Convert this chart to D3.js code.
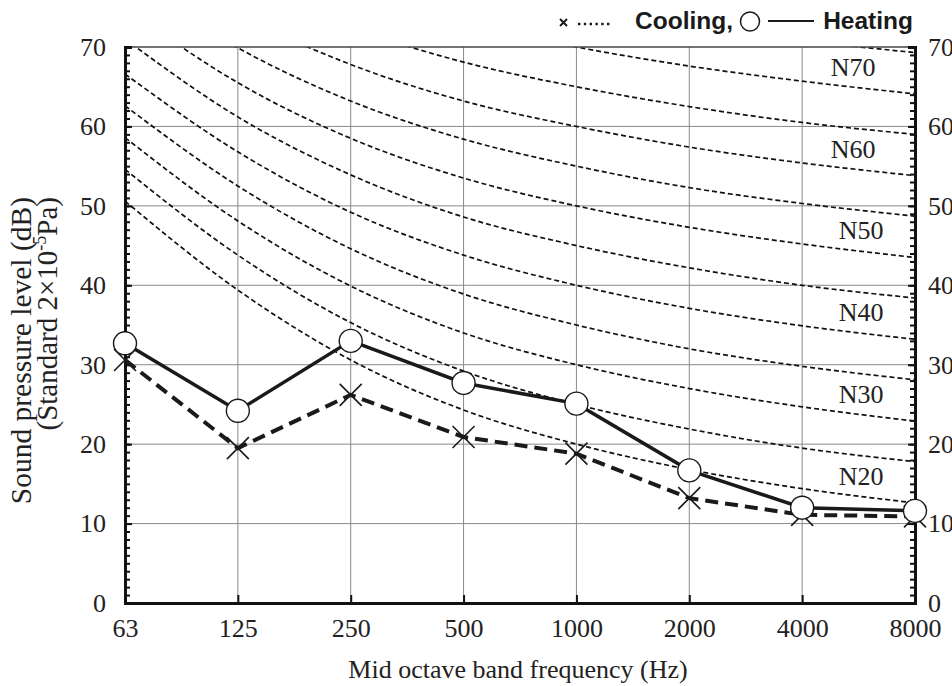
<!DOCTYPE html>
<html>
<head>
<meta charset="utf-8">
<script src="https://cdn.jsdelivr.net/npm/d3@7"></script>
<style>
  body { margin: 0; background: #fff; }
  svg { display: block; }
  .serif { font-family: "Liberation Serif", "Times New Roman", serif; fill: #222; }
</style>
</head>
<body>
<div id="chart"></div>
<script>
// Octave band centre frequencies (x categories)
var freqs = ["63", "125", "250", "500", "1000", "2000", "4000", "8000"];

// Measured levels, dB
var heating = [32.7, 24.2, 33.0, 27.7, 25.1, 16.7, 12.0, 11.6];
var cooling = [30.6, 19.5, 26.2, 20.9, 18.8, 13.2, 11.1, 10.9];

// Noise rating curves N20 ... N75 (values at each band)
var nLevels = [20, 25, 30, 35, 40, 45, 50, 55, 60, 65, 70, 75];
var nCurves = [
    [50.6, 39.4, 30.6, 24.3, 20, 16.8, 14.4, 12.6],
    [54.6, 43.8, 35.3, 29.2, 25, 21.9, 19.5, 17.8],
    [58.6, 48.1, 39.9, 34.0, 30, 27.0, 24.7, 22.9],
    [62.6, 52.5, 44.6, 38.9, 35, 32.0, 29.8, 28.1],
    [66.6, 56.8, 49.2, 43.8, 40, 37.1, 34.9, 33.2],
    [71.0, 61.2, 53.9, 48.6, 45, 42.2, 40.0, 38.4],
    [75.0, 65.5, 58.5, 53.5, 50, 47.3, 45.2, 43.5],
    [79.0, 69.9, 63.2, 58.4, 55, 52.3, 50.3, 48.7],
    [82.9, 74.2, 67.8, 63.2, 60, 57.4, 55.4, 53.8],
    [86.9, 78.6, 72.5, 68.1, 65, 62.5, 60.5, 59.0],
    [90.8, 82.9, 77.1, 73.0, 70, 67.6, 65.7, 64.1],
    [94.8, 87.3, 81.8, 77.9, 75, 72.6, 70.8, 69.3]
];
var nLabels = ["N20", "N30", "N40", "N50", "N60", "N70"];

// Axis ticks
var yMajor = [0, 10, 20, 30, 40, 50, 60, 70];
var yMinor = d3.range(0, 71, 1);

window.onload = function() {

    var W = 952, H = 686;
    var left = 125, right = 915, top = 47, bottom = 603;

    var svg = d3.select("#chart")
        .append("svg")
        .attr("width", W)
        .attr("height", H);

    var x = d3.scalePoint()
        .domain(freqs)
        .range([left, right])
        .padding(0);

    var y = d3.scaleLinear()
        .domain([0, 70])
        .range([bottom, top]);

    svg.append("defs").append("clipPath")
        .attr("id", "plot")
        .append("rect")
        .attr("x", left).attr("y", top)
        .attr("width", right - left).attr("height", bottom - top);

    // grid
    var grid = svg.append("g").attr("stroke", "#8a8a8a").attr("stroke-width", 1);
    grid.selectAll(".v")
        .data(freqs.slice(1, -1))
        .enter().append("line")
        .attr("x1", function(d) { return x(d); })
        .attr("x2", function(d) { return x(d); })
        .attr("y1", top).attr("y2", bottom);
    grid.selectAll(".h")
        .data(yMajor.slice(1, -1))
        .enter().append("line")
        .attr("x1", left).attr("x2", right)
        .attr("y1", function(d) { return y(d); })
        .attr("y2", function(d) { return y(d); });

    // N curves
    var curveLine = d3.line()
        .x(function(d, i) { return x(freqs[i]); })
        .y(function(d) { return y(d); })
        .curve(d3.curveMonotoneX);

    svg.append("g")
        .attr("clip-path", "url(#plot)")
        .selectAll("path")
        .data(nCurves)
        .enter().append("path")
        .attr("d", curveLine)
        .attr("fill", "none")
        .attr("stroke", "#111")
        .attr("stroke-width", 1.7)
        .attr("stroke-dasharray", "5,3");

    // N labels, placed just above their curve at the right edge
    svg.selectAll(".nlab")
        .data(nLabels)
        .enter().append("text")
        .attr("class", "serif")
        .attr("font-size", 26)
        .attr("text-anchor", "middle")
        .attr("x", function(d) { return x("4000") + (+d.slice(1) >= 60 ? 51 : 59); })
        .attr("y", function(d) {
            var k = nLevels.indexOf(+d.slice(1));
            return y(nCurves[k][7]) - 18;
        })
        .text(function(d) { return d; });

    // frame
    svg.append("line")
        .attr("x1", left).attr("x2", right)
        .attr("y1", top).attr("y2", top)
        .attr("stroke", "#444").attr("stroke-width", 1.5);

    // axes
    var leftMinor = svg.append("g")
        .attr("transform", "translate(" + left + ",0)")
        .call(d3.axisLeft(y).tickValues(yMinor).tickSize(-5).tickFormat(""));
    var leftAxis = svg.append("g")
        .attr("transform", "translate(" + left + ",0)")
        .call(d3.axisLeft(y).tickValues(yMajor).tickSize(-7).tickPadding(19).tickFormat(d3.format("d")));
    var rightMinor = svg.append("g")
        .attr("transform", "translate(" + right + ",0)")
        .call(d3.axisRight(y).tickValues(yMinor).tickSize(-5).tickFormat(""));
    var rightAxis = svg.append("g")
        .attr("transform", "translate(" + right + ",0)")
        .call(d3.axisRight(y).tickValues(yMajor).tickSize(-7).tickPadding(13).tickFormat(d3.format("d")));
    var bottomAxis = svg.append("g")
        .attr("transform", "translate(0," + bottom + ")")
        .call(d3.axisBottom(x).tickSize(-8).tickPadding(16));

    [leftMinor, leftAxis, rightMinor, rightAxis, bottomAxis].forEach(function(g) {
        g.select(".domain").attr("stroke", "#111").attr("stroke-width", 3);
        g.selectAll(".tick line").attr("stroke", "#111").attr("stroke-width", 2);
        g.selectAll("text")
            .attr("class", "serif")
            .attr("font-size", 26)
            .attr("fill", "#222");
    });

    // cooling series
    var dataLine = d3.line()
        .x(function(d, i) { return x(freqs[i]); })
        .y(function(d) { return y(d); });

    svg.append("path")
        .datum(cooling)
        .attr("d", dataLine)
        .attr("fill", "none")
        .attr("stroke", "#1a1a1a")
        .attr("stroke-width", 4)
        .attr("stroke-dasharray", "13,7");

    svg.selectAll(".xm")
        .data(cooling)
        .enter().append("path")
        .attr("d", function(d, i) {
            var cx = x(freqs[i]), cy = y(d), s = 11;
            return "M" + (cx - s) + "," + (cy - s) + "L" + (cx + s) + "," + (cy + s) +
                   "M" + (cx - s) + "," + (cy + s) + "L" + (cx + s) + "," + (cy - s);
        })
        .attr("stroke", "#1a1a1a")
        .attr("stroke-width", 1.6)
        .attr("fill", "none");

    // heating series
    svg.append("path")
        .datum(heating)
        .attr("d", dataLine)
        .attr("fill", "none")
        .attr("stroke", "#1a1a1a")
        .attr("stroke-width", 3.5);

    svg.selectAll(".cm")
        .data(heating)
        .enter().append("circle")
        .attr("cx", function(d, i) { return x(freqs[i]); })
        .attr("cy", function(d) { return y(d); })
        .attr("r", 11.5)
        .attr("fill", "#fff")
        .attr("stroke", "#1a1a1a")
        .attr("stroke-width", 1.4);

    // axis titles
    svg.append("text")
        .attr("class", "serif")
        .attr("font-size", 26)
        .attr("text-anchor", "middle")
        .attr("x", (left + right) / 2 - 2)
        .attr("y", 678)
        .text("Mid octave band frequency (Hz)");

    var yt = svg.append("g").attr("transform", "rotate(-90)");
    yt.append("text")
        .attr("class", "serif")
        .attr("font-size", 29.5)
        .attr("text-anchor", "end")
        .attr("x", -197)
        .attr("y", 31)
        .text("Sound pressure level (dB)");
    var t2 = yt.append("text")
        .attr("class", "serif")
        .attr("font-size", 29)
        .attr("text-anchor", "end")
        .attr("x", -197)
        .attr("y", 57);
    t2.append("tspan").text("(Standard 2\u00d710");
    t2.append("tspan").attr("font-size", 18).attr("dy", -11).text("-5");
    t2.append("tspan").attr("dy", 11).text("Pa)");

    // legend: symbols drawn as marks, words as text
    var lg = svg.append("g").attr("stroke", "#1a1a1a").attr("fill", "none");
    lg.append("path").attr("d", "M560,19L567,26M560,26L567,19").attr("stroke-width", 2);
    lg.append("line").attr("x1", 578).attr("x2", 611).attr("y1", 24).attr("y2", 24)
        .attr("stroke-width", 2.4).attr("stroke-dasharray", "2.4,3.4");
    lg.append("circle").attr("cx", 750).attr("cy", 21.5).attr("r", 9.5).attr("stroke-width", 1.5);
    lg.append("line").attr("x1", 768).attr("x2", 814).attr("y1", 21).attr("y2", 21).attr("stroke-width", 2);

    var legendFont = "'Liberation Sans', Arial, sans-serif";
    svg.append("text")
        .attr("x", 733).attr("y", 29)
        .attr("text-anchor", "end")
        .attr("font-family", legendFont).attr("font-weight", "bold").attr("font-size", 24.5)
        .attr("fill", "#1a1a1a")
        .text("Cooling,");
    svg.append("text")
        .attr("x", 913).attr("y", 29)
        .attr("text-anchor", "end")
        .attr("font-family", legendFont).attr("font-weight", "bold").attr("font-size", 24.5)
        .attr("fill", "#1a1a1a")
        .text("Heating");
};
</script>
</body>
</html>
